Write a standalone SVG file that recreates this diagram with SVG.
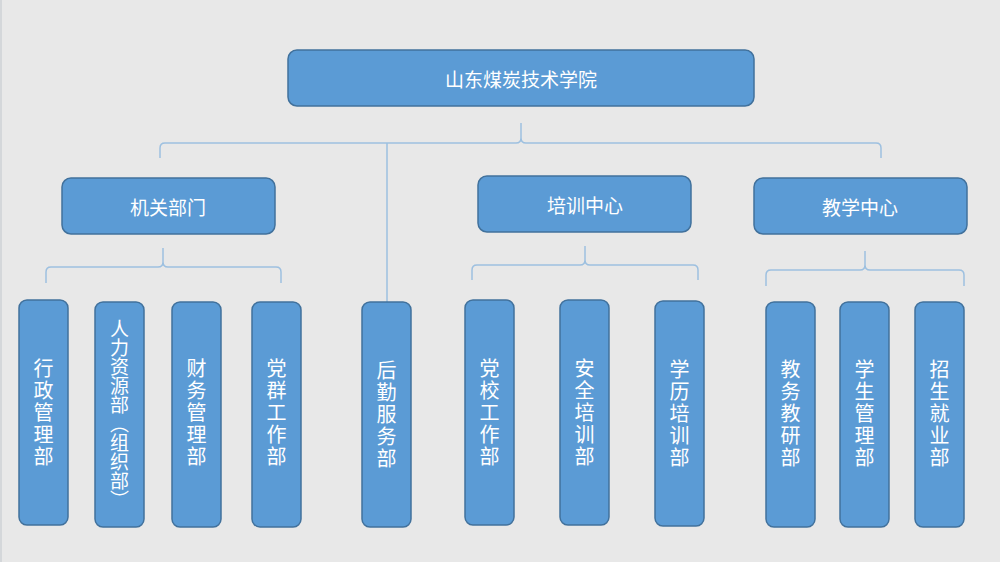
<svg xmlns="http://www.w3.org/2000/svg" width="1000" height="562" viewBox="0 0 1000 562">
<style>
.box{fill:#5b9bd5;stroke:#41719c;stroke-width:1.5}
.t{fill:#ffffff;font-family:"Noto Sans CJK SC","Microsoft YaHei",sans-serif;font-size:19px;text-anchor:middle;dominant-baseline:central}
.v{fill:#ffffff;font-family:"Noto Sans CJK SC","Microsoft YaHei",sans-serif;font-size:20px;text-anchor:middle;writing-mode:vertical-rl;letter-spacing:2px}
.ln{fill:none;stroke:#9dc0e0;stroke-width:1.5}
</style>
<rect width="1000" height="562" fill="#e8e8e8"/>
<rect x="0" y="0" width="2" height="562" fill="#d4d7da"/>
<g id="connectors">
<path class="ln" d="M160 158 V148 Q160 143 165 143 H516 Q521 143 521 138 Q521 143 526 143 H876 Q881 143 881 148 V158 M521 138 V123"/>
<path class="ln" d="M387 143 V302" stroke="#a3b8cc"/>
<path class="ln" d="M46 283 V272 Q46 267 51 267 H158 Q163 267 163 262 Q163 267 168 267 H276 Q281 267 281 272 V283 M163 262 V248"/>
<path class="ln" d="M472 280 V270 Q472 265 477 265 H580 Q585 265 585 260 Q585 265 590 265 H693 Q698 265 698 270 V280 M585 260 V246"/>
<path class="ln" d="M766 286 V275 Q766 270 771 270 H860 Q865 270 865 265 Q865 270 870 270 H959 Q964 270 964 275 V286 M865 265 V251"/>
</g>
<g id="root"><rect class="box" x="288" y="50" width="466" height="56" rx="9"/><text class="t" x="521" y="78">山东煤炭技术学院</text></g>
<g id="jiguan"><rect class="box" x="62" y="178" width="213" height="56" rx="9"/><text class="t" x="168" y="206">机关部门</text></g>
<g id="peixun"><rect class="box" x="478" y="176" width="213" height="56" rx="9"/><text class="t" x="585" y="204">培训中心</text></g>
<g id="jiaoxue"><rect class="box" x="754" y="178" width="213" height="56" rx="9"/><text class="t" x="860" y="206">教学中心</text></g>
<g id="xingzheng"><rect class="box" x="19" y="300" width="49" height="225" rx="8"/><text class="v" x="43.5" y="413">行政管理部</text></g>
<g id="renli"><rect class="box" x="95" y="302" width="49" height="225" rx="8"/><text class="v" x="119.5" y="414" style="font-size:19px;letter-spacing:0px;font-feature-settings:'vert' 1">人力资源部（组织部）</text></g>
<g id="caiwu"><rect class="box" x="172" y="302" width="49" height="225" rx="8"/><text class="v" x="196.5" y="413">财务管理部</text></g>
<g id="dangqun"><rect class="box" x="252" y="302" width="49" height="225" rx="8"/><text class="v" x="276.5" y="413">党群工作部</text></g>
<g id="houqin"><rect class="box" x="362" y="302" width="49" height="225" rx="8"/><text class="v" x="386.5" y="415">后勤服务部</text></g>
<g id="dangxiao"><rect class="box" x="465" y="300" width="49" height="225" rx="8"/><text class="v" x="489.5" y="413">党校工作部</text></g>
<g id="anquan"><rect class="box" x="560" y="300" width="49" height="225" rx="8"/><text class="v" x="584.5" y="413">安全培训部</text></g>
<g id="xueli"><rect class="box" x="655" y="301" width="49" height="225" rx="8"/><text class="v" x="679.5" y="414">学历培训部</text></g>
<g id="jiaowu"><rect class="box" x="766" y="302" width="49" height="225" rx="8"/><text class="v" x="790.5" y="414">教务教研部</text></g>
<g id="xuesheng"><rect class="box" x="840" y="302" width="49" height="225" rx="8"/><text class="v" x="864.5" y="414">学生管理部</text></g>
<g id="zhaosheng"><rect class="box" x="915" y="302" width="49" height="225" rx="8"/><text class="v" x="939.5" y="414">招生就业部</text></g>
</svg>
